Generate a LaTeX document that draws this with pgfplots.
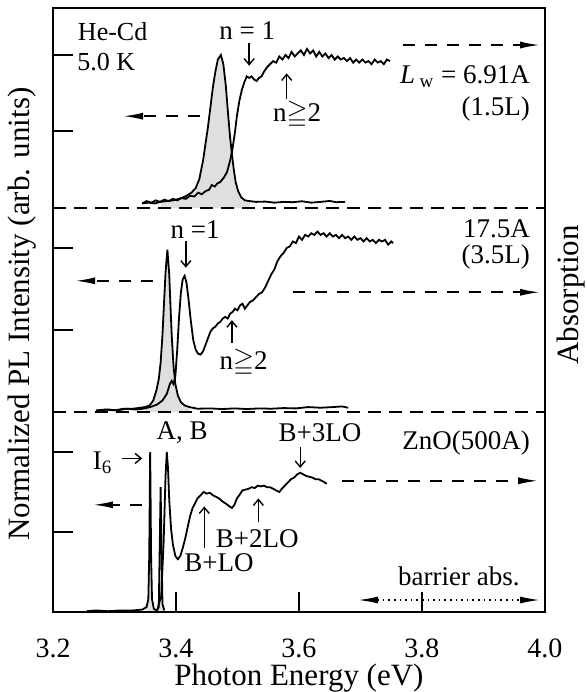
\documentclass[border=0pt]{standalone}
\usepackage{fontspec}
\setmainfont{Liberation Serif}
\usepackage{amssymb}
\usepackage{pgfplots}
\usepackage{pgfplotstable}
\pgfplotsset{compat=1.18}
\usetikzlibrary{arrows.meta}

% PL and absorption spectra
\pgfplotstableread{
E v
3.345 0.030
3.355 0.035
3.365 0.030
3.375 0.040
3.385 0.045
3.395 0.050
3.405 0.060
3.415 0.075
3.425 0.100
3.432 0.130
3.438 0.190
3.444 0.310
3.448 0.420
3.452 0.530
3.456 0.660
3.460 0.790
3.464 0.890
3.468 0.970
3.473 1.000
3.477 0.940
3.481 0.800
3.485 0.600
3.488 0.460
3.491 0.350
3.494 0.250
3.497 0.170
3.501 0.110
3.506 0.070
3.512 0.050
3.520 0.045
3.530 0.040
3.545 0.042
3.560 0.035
3.575 0.040
3.590 0.038
3.605 0.044
3.620 0.035
3.635 0.040
3.650 0.046
3.660 0.038
3.675 0.040
}\plA
\pgfplotstableread{
E v
3.345 0.030
3.352 0.045
3.360 0.035
3.367 0.050
3.374 0.040
3.381 0.055
3.388 0.045
3.395 0.060
3.402 0.050
3.409 0.065
3.416 0.060
3.423 0.080
3.430 0.075
3.436 0.100
3.442 0.090
3.448 0.110
3.454 0.120
3.458 0.150
3.463 0.140
3.467 0.160
3.472 0.170
3.478 0.200
3.483 0.235
3.488 0.310
3.492 0.390
3.496 0.500
3.499 0.600
3.503 0.700
3.507 0.770
3.511 0.820
3.515 0.860
3.519 0.850
3.523 0.860
3.527 0.840
3.531 0.830
3.535 0.850
3.539 0.860
3.543 0.890
3.548 0.920
3.553 0.940
3.558 0.960
3.563 0.950
3.568 0.990
3.573 0.970
3.578 1.000
3.583 0.980
3.588 1.020
3.593 0.990
3.598 1.010
3.603 1.030
3.608 1.000
3.613 1.040
3.618 1.010
3.623 1.030
3.628 0.990
3.633 1.020
3.638 0.990
3.643 1.010
3.648 0.980
3.653 1.000
3.658 0.970
3.663 0.990
3.668 0.970
3.673 0.980
3.678 0.960
3.683 0.980
3.688 0.950
3.693 0.970
3.698 0.950
3.703 0.970
3.708 0.950
3.713 0.960
3.718 0.940
3.723 0.970
3.728 0.950
3.733 0.960
3.738 0.940
3.743 0.970
3.748 0.960
}\abA
\pgfplotstableread{
E v
3.270 0.010
3.285 0.015
3.300 0.010
3.315 0.020
3.330 0.020
3.340 0.025
3.350 0.030
3.357 0.040
3.363 0.070
3.368 0.130
3.372 0.200
3.375 0.300
3.378 0.470
3.381 0.700
3.383 0.850
3.386 0.990
3.389 0.840
3.391 0.650
3.393 0.470
3.396 0.280
3.399 0.170
3.403 0.100
3.408 0.060
3.414 0.040
3.422 0.030
3.435 0.020
3.455 0.022
3.475 0.018
3.495 0.022
3.515 0.018
3.535 0.022
3.555 0.020
3.575 0.024
3.595 0.022
3.615 0.030
3.635 0.026
3.655 0.030
3.670 0.034
3.680 0.026
}\plB
\pgfplotstableread{
E v
3.275 0.010
3.290 0.015
3.305 0.010
3.320 0.020
3.335 0.015
3.346 0.020
3.358 0.030
3.369 0.045
3.378 0.070
3.385 0.110
3.390 0.170
3.393 0.190
3.396 0.170
3.399 0.220
3.402 0.380
3.405 0.580
3.408 0.730
3.411 0.810
3.414 0.830
3.417 0.790
3.420 0.700
3.424 0.560
3.428 0.440
3.432 0.380
3.436 0.355
3.440 0.350
3.444 0.370
3.448 0.410
3.452 0.450
3.456 0.490
3.460 0.510
3.464 0.520
3.468 0.540
3.472 0.550
3.476 0.570
3.480 0.580
3.484 0.570
3.488 0.600
3.492 0.610
3.496 0.630
3.500 0.620
3.504 0.650
3.508 0.660
3.512 0.630
3.516 0.650
3.520 0.670
3.525 0.680
3.530 0.700
3.535 0.720
3.540 0.730
3.545 0.760
3.550 0.800
3.555 0.840
3.560 0.870
3.565 0.920
3.570 0.950
3.575 0.970
3.580 1.000
3.585 1.010
3.590 1.040
3.595 1.030
3.600 1.070
3.605 1.050
3.610 1.080
3.615 1.070
3.620 1.090
3.625 1.080
3.630 1.100
3.635 1.080
3.640 1.090
3.645 1.070
3.650 1.090
3.655 1.070
3.660 1.080
3.665 1.060
3.670 1.080
3.675 1.060
3.680 1.070
3.685 1.050
3.690 1.070
3.695 1.050
3.700 1.060
3.705 1.040
3.710 1.060
3.715 1.040
3.720 1.050
3.725 1.030
3.730 1.050
3.735 1.040
3.740 1.050
3.745 1.020
3.750 1.040
3.753 1.030
}\abB
\pgfplotstableread{
E v
3.255 0.005
3.270 0.010
3.290 0.005
3.310 0.010
3.330 0.010
3.345 0.015
3.352 0.030
3.355 0.080
3.3565 0.350
3.3575 0.800
3.3580 1.000
3.3585 0.800
3.3595 0.350
3.361 0.080
3.364 0.020
3.369 0.010
3.372 0.030
3.3735 0.400
3.375 0.780
3.3765 0.400
3.378 0.050
3.381 0.010
}\plC
\pgfplotstableread{
E v
3.370 0.020
3.376 0.100
3.380 0.450
3.383 0.850
3.385 1.000
3.387 0.900
3.389 0.700
3.392 0.520
3.395 0.420
3.399 0.350
3.403 0.330
3.407 0.350
3.411 0.400
3.415 0.460
3.419 0.530
3.423 0.600
3.427 0.650
3.431 0.680
3.435 0.710
3.440 0.730
3.445 0.750
3.450 0.740
3.455 0.745
3.460 0.730
3.465 0.720
3.470 0.710
3.476 0.690
3.482 0.675
3.487 0.660
3.491 0.650
3.495 0.670
3.499 0.710
3.503 0.730
3.508 0.760
3.513 0.765
3.518 0.770
3.523 0.780
3.528 0.775
3.533 0.790
3.538 0.785
3.543 0.790
3.548 0.780
3.553 0.780
3.558 0.770
3.563 0.760
3.568 0.750
3.572 0.770
3.577 0.790
3.582 0.810
3.587 0.830
3.592 0.840
3.597 0.860
3.602 0.870
3.607 0.860
3.612 0.850
3.617 0.845
3.622 0.840
3.627 0.830
3.632 0.830
3.637 0.820
3.642 0.810
3.645 0.800
}\abC

\pgfplotsset{
  panel/.style={
    scale only axis, width=246pt,
    xmin=3.2, xmax=4.0, ymin=0,
    axis line style={draw=none},
    tick align=inside, tick pos=left,
    ytick={0.5,1}, yticklabels={},
    major tick length=10pt,
    every tick/.style={black, line width=1pt},
    clip=false,
  },
  spec/.style={black, line width=0.9pt, mark=none},
  shade/.style={draw=none, fill=gray!25},
}
\tikzset{
  lbl/.style={font=\fontsize{13.5}{15}\selectfont, inner sep=0pt},
  dasharr/.style={line width=0.9pt, dash pattern=on 6pt off 5pt, -{Latex[length=10pt,width=3.5pt]}},
  smallarr/.style={line width=0.7pt, -{Straight Barb[length=3pt,width=5pt]}},
}

\begin{document}
\begin{tikzpicture}
\useasboundingbox (-26.5pt,4pt) rectangle (267pt,-342pt);

% top panel: 6.91A well
\begin{axis}[panel, at={(0,0)}, anchor=north west, height=100pt, ymax=1.307, xtick=\empty]
\addplot[shade, restrict x to domain=3.37:3.52] table {\plA} \closedcycle;
\addplot[spec] table {\plA};
\addplot[spec] table {\abA};
\node[lbl, anchor=west, font=\fontsize{13}{15}\selectfont] at (3.240,1.15) {He-Cd};
\node[lbl, anchor=west, font=\fontsize{13}{15}\selectfont] at (3.239,0.955) {5.0 K};
\node[lbl] at (3.516,1.16) {n = 1};
\draw[smallarr] (3.519,1.08) -- (3.519,0.93);
\node[lbl] at (3.597,0.61) {n$\geqq$2};
\draw[smallarr] (3.580,0.71) -- (3.580,0.88);
\draw[dasharr] (3.439,0.60) -- (3.314,0.60);
\draw[dasharr] (3.769,1.065) -- (3.992,1.065);
\node[lbl, anchor=east] at (3.976,0.86) {\textit{L}\,\textsubscript{w} = 6.91A};
\node[lbl, anchor=east] at (3.976,0.65) {(1.5L)};
\end{axis}

% middle panel: 17.5A well
\begin{axis}[panel, at={(0,-100pt)}, anchor=north west, height=102pt, ymax=1.244, xtick=\empty]
\addplot[shade, restrict x to domain=3.35:3.43] table {\plB} \closedcycle;
\addplot[spec] table {\plB};
\addplot[spec] table {\abB};
\node[lbl, anchor=east] at (3.976,1.12) {17.5A};
\node[lbl, anchor=east] at (3.976,0.945) {(3.5L)};
\node[lbl] at (3.431,1.11) {n =1};
\draw[smallarr] (3.416,1.04) -- (3.416,0.88);
\node[lbl] at (3.510,0.30) {n$\geqq$2};
\draw[smallarr] (3.491,0.42) -- (3.491,0.56);
\draw[dasharr] (3.363,0.80) -- (3.236,0.80);
\draw[dasharr] (3.590,0.73) -- (3.992,0.73);
\end{axis}

% bottom panel: ZnO film
\begin{axis}[panel, at={(0,-202pt)}, anchor=north west, height=100pt, ymax=1.25,
  xtick={3.2,3.4,3.6,3.8,4.0},
  xticklabel style={font=\fontsize{14}{16}\selectfont, anchor=base, inner sep=0pt, yshift=-22.5pt},
  /pgf/number format/.cd, fixed, fixed zerofill, precision=1, assume math mode=true, /pgfplots/.cd,
  xlabel={Photon Energy (eV)},
  xlabel style={font=\fontsize{15.5}{18}\selectfont, inner sep=0pt, at={(axis description cs:0.5,0)}, anchor=base, yshift=-36.5pt},
]
\addplot[shade, restrict x to domain=3.35:3.382] table {\plC} \closedcycle;
\addplot[spec] table {\plC};
\addplot[spec] table {\abC};
\node[lbl, anchor=base west] at (3.264,0.89) {I\textsubscript{6}};
\draw[smallarr] (3.312,0.96) -- (3.345,0.96);
\node[lbl] at (3.410,1.12) {A, B};
\node[lbl] at (3.634,1.12) {B+3LO};
\draw[smallarr] (3.602,1.03) -- (3.602,0.90);
\node[lbl] at (3.470,0.31) {B+LO};
\draw[smallarr] (3.446,0.40) -- (3.446,0.66);
\node[lbl] at (3.532,0.46) {B+2LO};
\draw[smallarr] (3.534,0.56) -- (3.534,0.71);
\node[lbl, anchor=east] at (3.976,1.056) {ZnO(500A)};
\draw[dasharr] (3.345,0.67) -- (3.265,0.67);
\draw[dasharr] (3.670,0.82) -- (3.989,0.82);
\node[lbl] at (3.860,0.22) {barrier abs.};
\draw[line width=0.8pt, dotted, {Latex[length=10pt,width=3.5pt]}-{Latex[length=10pt,width=3.5pt]}] (3.696,0.075) -- (3.992,0.075);
\end{axis}

% frame and panel dividers
\draw[line width=1.3pt] (0,0) rectangle (246pt,-302pt);
\draw[line width=1.1pt, dash pattern=on 6.5pt off 4pt] (0,-100pt) -- (246pt,-100pt);
\draw[line width=1.1pt, dash pattern=on 6.5pt off 4pt] (0,-202pt) -- (246pt,-202pt);

\node[rotate=90, anchor=base, font=\fontsize{15.5}{18}\selectfont] at (-11.5pt,-153pt) {Normalized PL Intensity (arb. units)};
\node[rotate=90, anchor=base, font=\fontsize{15.5}{18}\selectfont] at (262.5pt,-143.5pt) {Absorption};
\end{tikzpicture}
\end{document}
